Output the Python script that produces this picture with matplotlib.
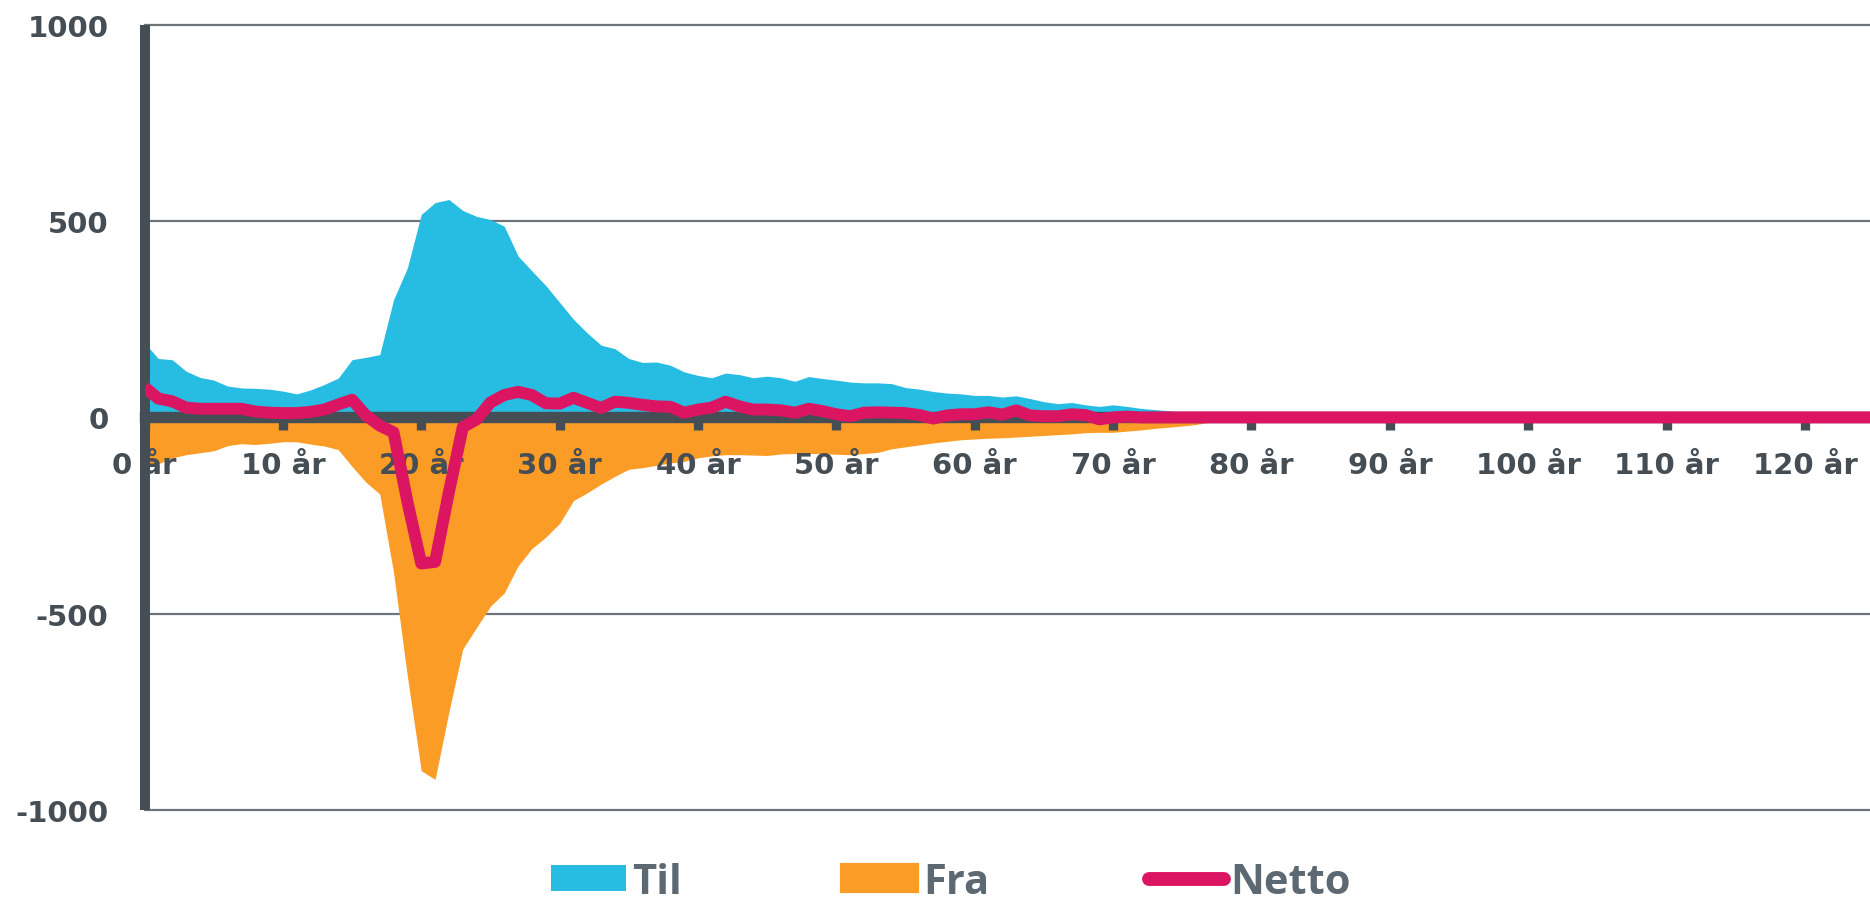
import matplotlib
matplotlib.use("Agg")
import matplotlib.pyplot as plt
from matplotlib.patches import Patch
from matplotlib.lines import Line2D
from matplotlib.font_manager import FontProperties

# ---------------- data ----------------
ages = list(range(0, 126))

til = [
    190, 150, 147, 118, 102, 95, 80, 75, 74, 72,
    67, 60, 70, 84, 100, 147, 153, 160, 300, 381,
    517, 547, 555, 527, 512, 504, 487, 411, 373, 336,
    293, 250, 215, 184, 175, 150, 140, 141, 133, 116,
    107, 101, 113, 109, 101, 105, 101, 92, 104, 99,
    95, 90, 88, 88, 86, 76, 72, 66, 62, 60,
    56, 56, 52, 55, 48, 40, 35, 38, 32, 28,
    32, 28, 23, 20, 17, 14, 10, 6, 3, 1,
    0, 0, 0, 0, 0, 0, 0, 0, 0, 0,
    0, 0, 0, 0, 0, 0, 0, 0, 0, 0,
    0, 0, 0, 0, 0, 0, 0, 0, 0, 0,
    0, 0, 0, 0, 0, 0, 0, 0, 0, 0,
    0, 0, 0, 0, 0, 0,
]

fra = [
    -120, -118, -103, -95, -90, -85, -72, -67, -69, -66,
    -62, -62, -68, -73, -82, -125, -165, -195, -395, -660,
    -900, -922, -750, -590, -535, -481, -447, -378, -334, -305,
    -270, -212, -192, -170, -150, -132, -128, -122, -116, -112,
    -103, -98, -95, -95, -96, -97, -93, -92, -92, -92,
    -94, -95, -92, -89, -80, -75, -70, -65, -61, -57,
    -55, -53, -52, -50, -48, -46, -44, -42, -39, -38,
    -38, -35, -32, -28, -25, -22, -18, -12, -6, -2,
    0, 0, 0, 0, 0, 0, 0, 0, 0, 0,
    0, 0, 0, 0, 0, 0, 0, 0, 0, 0,
    0, 0, 0, 0, 0, 0, 0, 0, 0, 0,
    0, 0, 0, 0, 0, 0, 0, 0, 0, 0,
    0, 0, 0, 0, 0, 0,
]

netto = [
    77, 48, 41, 25, 22, 22, 22, 22, 15, 12,
    11, 11, 14, 20, 33, 45, 5, -21, -38, -215,
    -372, -368, -190, -25, -5, 38, 57, 65, 57, 36,
    35, 50, 37, 24, 40, 37, 32, 28, 27, 12,
    20, 25, 40, 28, 20, 20, 18, 12, 22, 16,
    8, 3, 12, 13, 12, 11, 6, -3, 5, 8,
    8, 13, 7, 18, 5, 3, 3, 8, 6, -5,
    0, 2, 0, 0, 0, 0, 0, 0, 0, 0,
    0, 0, 0, 0, 0, 0, 0, 0, 0, 0,
    0, 0, 0, 0, 0, 0, 0, 0, 0, 0,
    0, 0, 0, 0, 0, 0, 0, 0, 0, 0,
    0, 0, 0, 0, 0, 0, 0, 0, 0, 0,
    0, 0, 0, 0, 0, 0,
]

xtick_vals = [0, 10, 20, 30, 40, 50, 60, 70, 80, 90, 100, 110, 120]
xtick_labels = ["0 år", "10 år", "20 år", "30 år", "40 år", "50 år", "60 år",
                "70 år", "80 år", "90 år", "100 år", "110 år", "120 år"]
ytick_vals = [-1000, -500, 0, 500, 1000]
ytick_labels = ["-1000", "-500", "0", "500", "1000"]
series_names = ["Til", "Fra", "Netto"]

# ---------------- style ----------------
C_TIL = "#27bde2"
C_FRA = "#fb9c26"
C_NET = "#dc1563"
C_DARK = "#454d55"
C_GRID = "#6e757a"
C_LEG = "#5d6972"

W, H, DPI = 1870, 904, 100
fig = plt.figure(figsize=(W / DPI, H / DPI), dpi=DPI)
ax = fig.add_axes([144.5 / W, (H - 811) / H, 1 - 144.5 / W, (811 - 25.8) / H])

ax.set_xlim(0, 124.7)
ax.set_ylim(-1000, 1000)

# horizontal gridlines (below fills)
for yv in ytick_vals:
    if yv != 0:
        ax.axhline(yv, color=C_GRID, lw=1.6, zorder=0.8, clip_on=False)

ax.fill_between(ages, 0, til, color=C_TIL, lw=0, zorder=1)
ax.fill_between(ages, 0, fra, color=C_FRA, lw=0, zorder=1)
ax.plot(ages, netto, color=C_NET, lw=8.6, zorder=3, solid_joinstyle="round",
        solid_capstyle="butt")

# spines
for s in ("top", "right"):
    ax.spines[s].set_visible(False)
ax.spines["left"].set_color(C_DARK)
ax.spines["left"].set_linewidth(7.2)
ax.spines["left"].set_bounds(-1000, 1000)
ax.spines["left"].set_capstyle("butt")
ax.spines["bottom"].set_position(("data", 0))
ax.spines["bottom"].set_color(C_DARK)
ax.spines["bottom"].set_linewidth(8.2)

tick_font = FontProperties(family="DejaVu Sans", weight="bold", size=21)

ax.set_xticks(xtick_vals)
ax.set_xticklabels(xtick_labels, fontproperties=tick_font, color=C_DARK)
ax.set_yticks(ytick_vals)
ax.set_yticklabels(ytick_labels, fontproperties=tick_font, color=C_DARK)
ax.tick_params(axis="x", direction="out", length=9.1, width=6.7, color=C_DARK, pad=15)
ax.tick_params(axis="y", length=0, pad=26.0)

# legend
handles = [
    Patch(facecolor=C_TIL, edgecolor=C_TIL, lw=0),
    Patch(facecolor=C_FRA, edgecolor=C_FRA, lw=3),
    Line2D([], [], color=C_NET, lw=10, solid_capstyle="round"),
]
leg = fig.legend(handles, series_names, ncol=3, frameon=False,
                 loc="lower left", bbox_to_anchor=(551 / W, 0.0005),
                 borderpad=0, borderaxespad=0, handlelength=1.8, handleheight=0.6,
                 handletextpad=0.15, columnspacing=3.83,
                 prop=FontProperties(family="Open Sans", weight="bold", size=30),
                 labelcolor=C_LEG)

fig.savefig("out.png", dpi=DPI)
